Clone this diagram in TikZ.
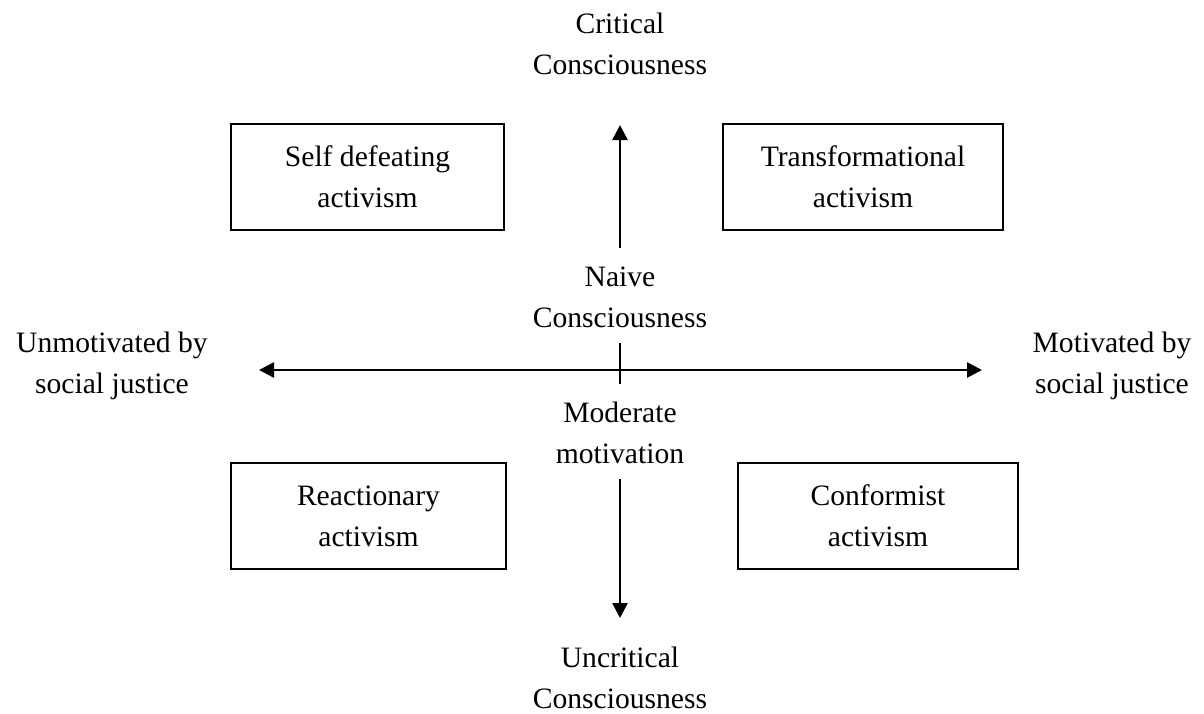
\documentclass[tikz,border=0pt]{standalone}
\usepackage{fontspec}
\setmainfont{Liberation Serif}
\usepackage{tikz}
\usetikzlibrary{positioning,arrows.meta}

\begin{document}
\begin{tikzpicture}[x=0.5pt, y=-0.5pt,
    lbl/.style={align=center, inner sep=0pt, font=\fontsize{14.8pt}{20.5pt}\selectfont},
    quad/.style={lbl, draw, line width=1pt, minimum height=53pt},
    tip/.style={Triangle[length=7.5pt,width=7.5pt]},
    axis/.style={line width=1.3pt, -{Triangle[length=7.5pt,width=7.5pt]}},
  ]
  \useasboundingbox (0,0) rectangle (1204,713);
  % axis labels
  \node[lbl] (critical) at (620,44) {Critical\\Consciousness};
  \node[lbl] (naive) at (620,297) {Naive\\Consciousness};
  \node[lbl] (moderate) at (620,433) {Moderate\\motivation};
  \node[lbl] (uncritical) at (620,678) {Uncritical\\Consciousness};
  \node[lbl] (unmot) at (112,366) {Unmotivated by\\social justice};
  \node[lbl] (mot) at (1112,366) {Motivated by\\social justice};
  % quadrants
  \node[quad, minimum width=136.5pt] (selfdef) at (367.5,176.5) {Self defeating\\activism};
  \node[quad, minimum width=140pt] (transf) at (863,176.5) {Transformational\\activism};
  \node[quad, minimum width=137.5pt] (react) at (368.5,516) {Reactionary\\activism};
  \node[quad, minimum width=140pt] (conf) at (878,516) {Conformist\\activism};
  % arrows
  \coordinate (uptip) at (620,125);
  \coordinate (upbase) at (620,248);
  \coordinate (lefttip) at (259,370);
  \coordinate (righttip) at (982,370);
  \coordinate (ticktop) at (620,343);
  \coordinate (tickbot) at (620,384);
  \coordinate (downbase) at (620,479);
  \coordinate (downtip) at (620,618);
  \draw[axis] (upbase) -- (uptip);
  \draw[line width=1.3pt, {Triangle[length=7.5pt,width=7.5pt]}-{Triangle[length=7.5pt,width=7.5pt]}] (lefttip) -- (righttip);
  \draw[line width=1.3pt] (ticktop) -- (tickbot);
  \draw[axis] (downbase) -- (downtip);
\end{tikzpicture}
\end{document}
